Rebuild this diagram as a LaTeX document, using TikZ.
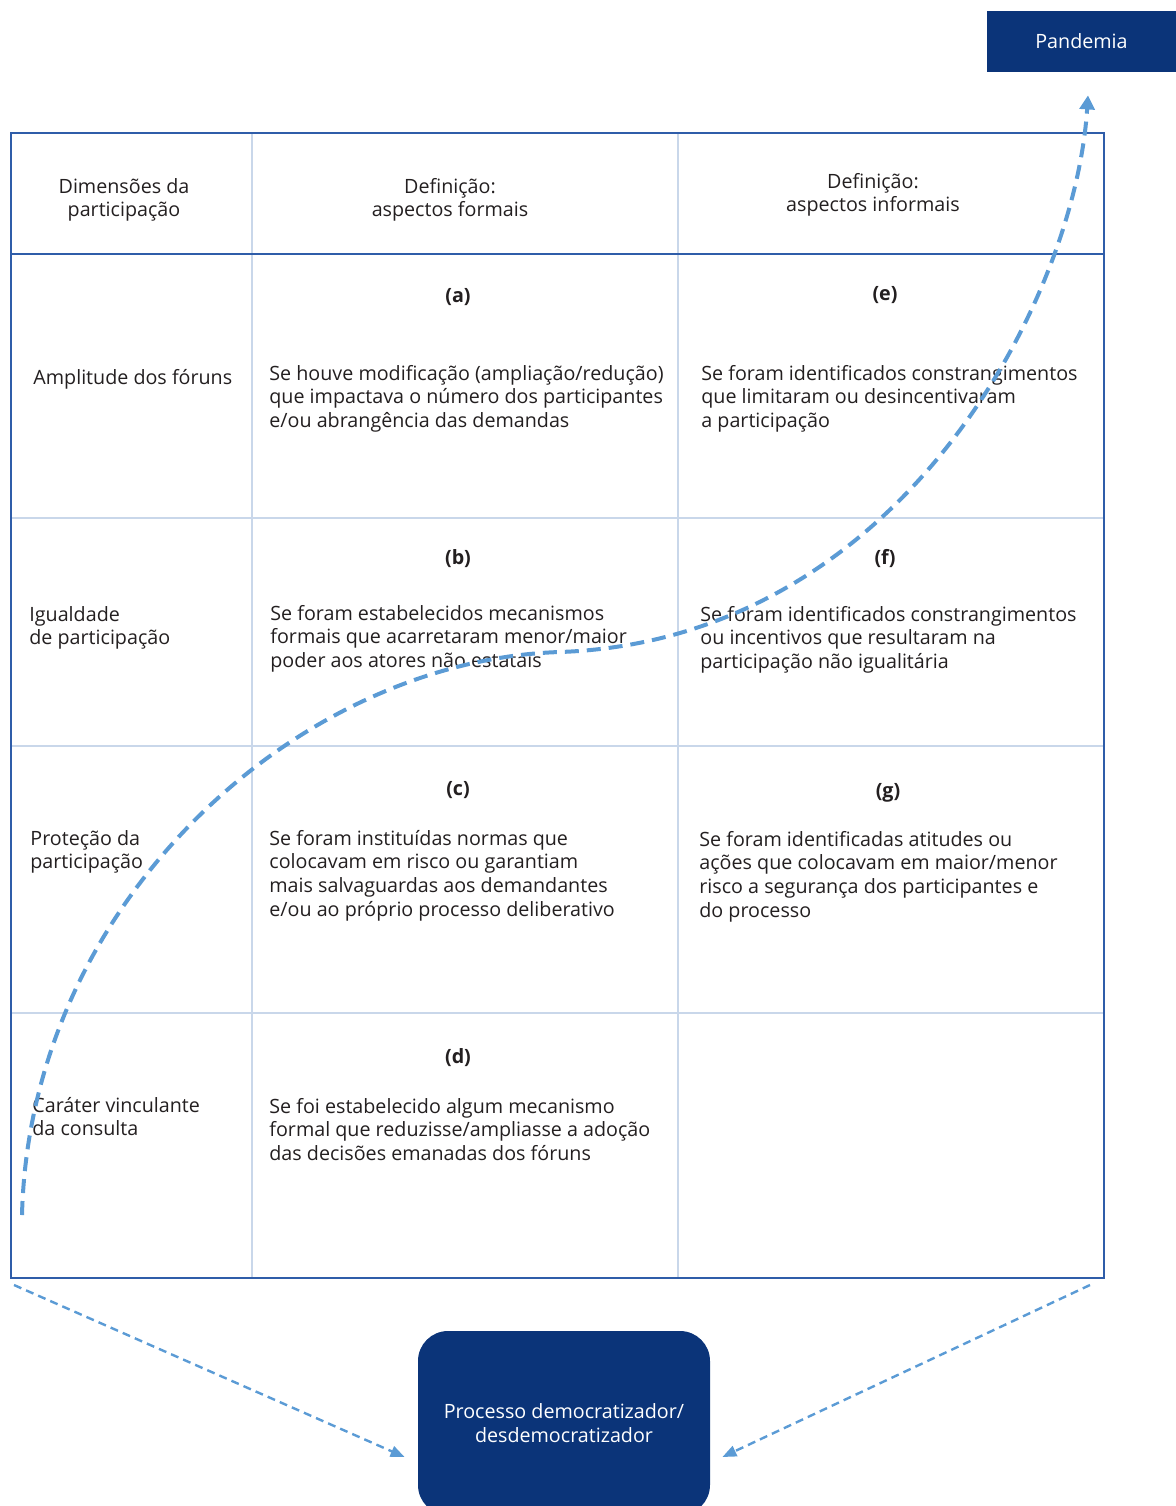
\documentclass[tikz,border=0pt]{standalone}
\usepackage{fontspec}
\setmainfont{Open Sans}
\usetikzlibrary{arrows.meta,calc}
\definecolor{navy}{HTML}{0B3479}
\definecolor{frameblue}{HTML}{2F5DA9}
\definecolor{gridblue}{HTML}{C9D7EA}
\definecolor{arrowblue}{HTML}{5B9BD5}
\definecolor{ink}{HTML}{231F20}
\tikzset{
	txt/.style={inner sep=0pt, text=ink, font=\fontsize{9.85}{11.85}\selectfont},
	cell/.style={txt, anchor=base west, align=left},
	head/.style={txt, anchor=base, align=center},
	tag/.style={txt, anchor=base, font=\fontsize{9.85}{11.85}\selectfont\bfseries},
	darkbox/.style={fill=navy, text=white, align=center, inner sep=0pt, font=\fontsize{9.85}{11.85}\selectfont},
	flow/.style={arrowblue, line width=2pt, dash pattern=on 7pt off 4pt, -{Triangle[length=7pt,width=7.5pt]}},
	feed/.style={arrowblue, line width=1.2pt, dash pattern=on 4pt off 2.6pt, -{Triangle[length=7pt,width=5.5pt]}}
}
\begin{document}
\begin{tikzpicture}[x=0.5pt,y=-0.5pt]
	\useasboundingbox (0,0) rectangle (1176,1506);
	\coordinate (tl) at (11,133);
	\coordinate (br) at (1104,1278);
	\foreach \r in {518,746,1013}
		\draw[gridblue, line width=1pt] (11,\r) -- (1104,\r);
	\foreach \c in {252,678}
		\draw[gridblue, line width=1pt] (\c,133) -- (\c,1278);
	\draw[frameblue, line width=1pt] (11,254) -- (1104,254);
	\draw[frameblue, line width=1pt] (tl) rectangle (br);

	\node[head] (h1) at (124,216.7) {Dimensões da\\participação};
	\node[head] (h2) at (450,216.7) {Definição:\\aspectos formais};
	\node[head] (h3) at (873,211.7) {Definição:\\aspectos informais};

	\node[cell] (r1) at (33,384) {Amplitude dos fóruns};
	\node[cell] (r2) at (29,644.7) {Igualdade\\de participação};
	\node[cell] (r3) at (30,868.7) {Proteção da\\participação};
	\node[cell] (r4) at (32,1135.7) {Caráter vinculante\\da consulta};

	\node[tag] (ta) at (458,302) {(a)};
	\node[tag] (tb) at (458,564) {(b)};
	\node[tag] (tc) at (458,795) {(c)};
	\node[tag] (td) at (458,1063) {(d)};
	\node[tag] (te) at (885,300) {(e)};
	\node[tag] (tf) at (885,564) {(f)};
	\node[tag] (tg) at (888,797) {(g)};

	\node[cell] (ca) at (269,427.4) {Se houve modificação (ampliação/redução)\\que impactava o número dos participantes\\e/ou abrangência das demandas};
	\node[cell] (cb) at (270,667.4) {Se foram estabelecidos mecanismos\\formais que acarretaram menor/maior\\poder aos atores não estatais};
	\node[cell] (cc) at (269,916.1) {Se foram instituídas normas que\\colocavam em risco ou garantiam\\mais salvaguardas aos demandantes\\e/ou ao próprio processo deliberativo};
	\node[cell] (cd) at (269,1160.4) {Se foi estabelecido algum mecanismo\\formal que reduzisse/ampliasse a adoção\\das decisões emanadas dos fóruns};
	\node[cell] (ce) at (701,427.4) {Se foram identificados constrangimentos\\que limitaram ou desincentivaram\\a participação};
	\node[cell] (cf) at (700,668.4) {Se foram identificados constrangimentos\\ou incentivos que resultaram na\\participação não igualitária};
	\node[cell] (cg) at (699,917.1) {Se foram identificadas atitudes ou\\ações que colocavam em maior/menor\\risco a segurança dos participantes e\\do processo};

	\node[darkbox, minimum width=94.5pt, minimum height=30.5pt] (pand) at (1081.5,41.5) {Pandemia};
	\node[darkbox, minimum width=146pt, minimum height=92pt, rounded corners=15pt] (proc) at (564,1423) {Processo democratizador/\\desdemocratizador};

	\coordinate (start) at (22,1215);
	\draw[flow] (start) .. controls (30,900) and (300,660) .. (560,652)
		.. controls (900,640) and (1075,300) .. ($(pand.south)+(6.5,23)$);
	\draw[feed] ($(tl |- br)+(3,7)$) -- ($(proc.west)+(-13,34)$);
	\draw[feed] ($(br)+(-14,7)$) -- ($(proc.east)+(12,34)$);
\end{tikzpicture}
\end{document}
